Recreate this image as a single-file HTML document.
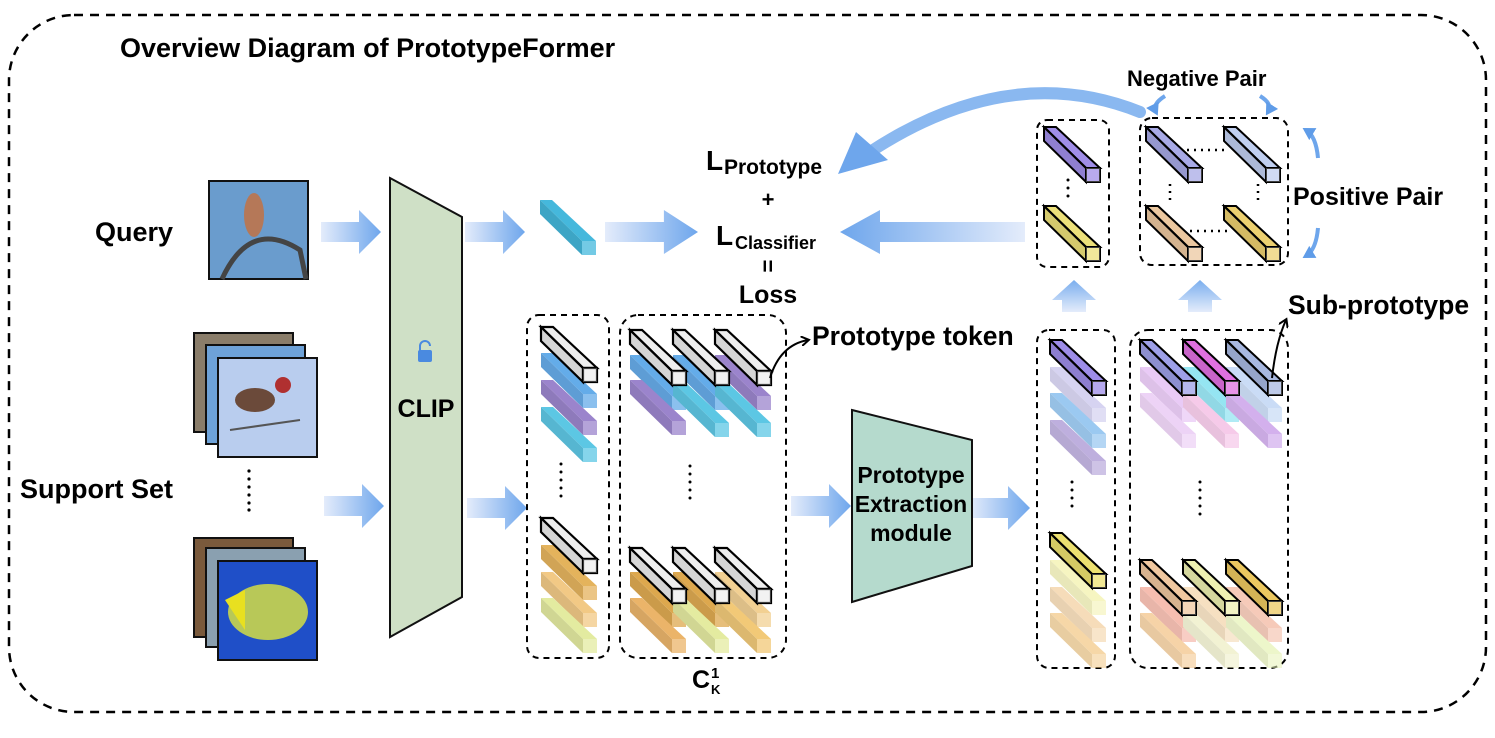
<!DOCTYPE html>
<html><head><meta charset="utf-8"><style>
html,body{margin:0;padding:0;background:#fff;}
svg{display:block;font-family:"Liberation Sans",Arial,sans-serif;font-weight:bold;}
</style></head><body>
<svg width="1495" height="738" viewBox="0 0 1495 738" xmlns="http://www.w3.org/2000/svg">
<defs>
<linearGradient id="ag" x1="0" y1="0" x2="1" y2="0"><stop offset="0" stop-color="#e4ecfb"/><stop offset="1" stop-color="#6ea6ec"/></linearGradient>
<linearGradient id="agl" x1="1" y1="0" x2="0" y2="0"><stop offset="0" stop-color="#e4ecfb"/><stop offset="1" stop-color="#6ea6ec"/></linearGradient>
<linearGradient id="agu" x1="0" y1="1" x2="0" y2="0"><stop offset="0" stop-color="#e4ecfb"/><stop offset="1" stop-color="#7aaeee"/></linearGradient>
<g id="arr"><polygon points="0,-10 38,-10 38,-22 60,0 38,22 38,10 0,10" fill="url(#ag)"/></g>
<g id="b">
<polygon points="0,0 12,0 56,41 42,41"/>
<polygon points="0,0 42,41 42,55 0,14"/>
<polygon points="0,0 42,41 42,55 0,14" fill="#000" fill-opacity=".1" stroke="none"/>
<polygon points="42,41 56,41 56,55 42,55"/>
<polygon points="42,41 56,41 56,55 42,55" fill="#fff" fill-opacity=".25" stroke="none"/>
<line x1="0" y1="0" x2="42" y2="41"/>
</g>
<marker id="mk" markerWidth="10" markerHeight="10" refX="7" refY="5" orient="auto" markerUnits="userSpaceOnUse"><path d="M0,0 L8,5 L0,10" fill="none" stroke="#000" stroke-width="2"/></marker>
<marker id="mb" markerWidth="14" markerHeight="14" refX="8" refY="7" orient="auto" markerUnits="userSpaceOnUse"><path d="M0,0 L12,7 L0,14 Z" fill="#5f9ce8"/></marker>
</defs>

<rect x="9" y="15" width="1477" height="697" rx="65" fill="none" stroke="#000" stroke-width="2.5" stroke-dasharray="9,7"/>
<text x="120" y="57" font-size="27">Overview Diagram of PrototypeFormer</text>
<text x="95" y="241" font-size="27">Query</text>
<text x="20" y="498" font-size="27">Support Set</text>

<!-- images -->
<rect x="209" y="181" width="99" height="98" fill="#6a9ccd" stroke="#111" stroke-width="2"/>
<path d="M222,279 Q250,218 300,250 L306,279" fill="none" stroke="#444" stroke-width="5"/>
<ellipse cx="254" cy="215" rx="10" ry="22" fill="#b57858"/>
<rect x="194" y="333" width="99" height="99" fill="#8a7d6a" stroke="#111" stroke-width="2"/>
<rect x="206" y="345" width="99" height="99" fill="#6ea2d8" stroke="#111" stroke-width="2"/>
<rect x="218" y="358" width="99" height="99" fill="#b9cdee" stroke="#111" stroke-width="2"/>
<ellipse cx="255" cy="400" rx="20" ry="12" fill="#6b4a3a"/>
<circle cx="283" cy="385" r="8" fill="#b03030"/>
<path d="M230,430 L300,420" stroke="#555" stroke-width="2"/>
<g fill="#000"><circle cx="249" cy="471" r="1.6"/><circle cx="249" cy="479" r="1.6"/><circle cx="249" cy="487" r="1.6"/><circle cx="249" cy="495" r="1.6"/><circle cx="249" cy="503" r="1.6"/><circle cx="249" cy="510" r="1.6"/></g>
<rect x="194" y="538" width="99" height="99" fill="#7a5a3c" stroke="#111" stroke-width="2"/>
<rect x="206" y="548" width="99" height="99" fill="#8aa0b0" stroke="#111" stroke-width="2"/>
<rect x="218" y="561" width="99" height="99" fill="#1f4fc8" stroke="#111" stroke-width="2"/>
<ellipse cx="268" cy="612" rx="40" ry="28" fill="#b8c858"/>
<polygon points="225,600 245,590 245,630" fill="#e8e020"/>

<!-- CLIP -->
<polygon points="390,178 462,217 462,597 390,637" fill="#cfe0c6" stroke="#111" stroke-width="2"/>
<rect x="418" y="350" width="14" height="12" rx="2" fill="#4a8ae0"/>
<path d="M420,351 v-5 a5,5 0 0 1 10,0" fill="none" stroke="#4a8ae0" stroke-width="2"/>
<text x="426" y="417" font-size="25" text-anchor="middle">CLIP</text>

<!-- arrows -->
<use href="#arr" x="321" y="232"/>
<use href="#arr" x="324" y="506"/>
<use href="#arr" x="465" y="232"/>
<use href="#arr" x="467" y="508"/>
<g transform="translate(605,232) scale(1.55,1)"><use href="#arr"/></g>
<use href="#arr" x="791" y="506"/>
<use href="#arr" x="970" y="508"/>
<polygon points="1025,222 880,222 880,210 840,232 880,254 880,242 1025,242" fill="url(#agl)"/>
<polygon points="1062,312 1062,300 1052,300 1074,280 1096,300 1086,300 1086,312" fill="url(#agu)"/>
<polygon points="1188,312 1188,300 1178,300 1200,280 1222,300 1212,300 1212,312" fill="url(#agu)"/>
<path d="M1140,112 Q1010,60 870,152" fill="none" stroke="#8ab8f0" stroke-width="12" stroke-linecap="round"/>
<polygon points="838,174 856,132 888,160" fill="#6ea6ec"/>

<!-- query bar -->
<use href="#b" x="540" y="200" fill="#45b8dc" stroke="none"/>

<!-- loss text -->
<text x="706" y="170" font-size="28">L</text><text x="724" y="174" font-size="21">Prototype</text>
<text x="768" y="207" font-size="22" text-anchor="middle">+</text>
<text x="716" y="245" font-size="28">L</text><text x="735" y="249" font-size="18">Classifier</text>
<text x="768" y="274" font-size="22" text-anchor="middle" transform="rotate(90 768 266)">=</text>
<text x="768" y="303" font-size="25" text-anchor="middle">Loss</text>

<!-- boxes -->
<g fill="none" stroke="#000" stroke-width="2" stroke-dasharray="6,5">
<rect x="527" y="315" width="82" height="343" rx="12"/>
<rect x="620" y="315" width="166" height="343" rx="18"/>
<rect x="1037" y="330" width="78" height="338" rx="12"/>
<rect x="1130" y="330" width="158" height="338" rx="18"/>
<rect x="1037" y="120" width="72" height="147" rx="10"/>
<rect x="1140" y="118" width="148" height="147" rx="12"/>
</g>

<!-- box1 -->
<g stroke="none" opacity=".85">
<use href="#b" x="541" y="353" fill="#4a9ee6"/>
<use href="#b" x="541" y="380" fill="#8a6fc4"/>
<use href="#b" x="541" y="407" fill="#40bee0"/>
<use href="#b" x="541" y="545" fill="#e0a640"/>
<use href="#b" x="541" y="572" fill="#f0c070"/>
<use href="#b" x="541" y="598" fill="#dfe890"/>
</g>
<use href="#b" x="541" y="327" fill="#eeeeee" stroke="#000" stroke-width="2.2"/>
<use href="#b" x="541" y="518" fill="#eeeeee" stroke="#000" stroke-width="2.2"/>
<g fill="#000"><circle cx="561" cy="464" r="1.5"/><circle cx="561" cy="472" r="1.5"/><circle cx="561" cy="480" r="1.5"/><circle cx="561" cy="488" r="1.5"/><circle cx="561" cy="496" r="1.5"/></g>

<!-- box2 -->
<g stroke="none" opacity=".85">
<use href="#b" x="630" y="355" fill="#4a9ee6"/>
<use href="#b" x="630" y="380" fill="#8a6fc4"/>
<use href="#b" x="673" y="355" fill="#4a9ee6"/>
<use href="#b" x="673" y="382" fill="#40bee0"/>
<use href="#b" x="715" y="355" fill="#8a6fc4"/>
<use href="#b" x="715" y="382" fill="#40bee0"/>
<use href="#b" x="630" y="572" fill="#d89a30"/>
<use href="#b" x="630" y="598" fill="#e8a850"/>
<use href="#b" x="673" y="572" fill="#d89a30"/>
<use href="#b" x="673" y="598" fill="#e0e890"/>
<use href="#b" x="715" y="572" fill="#f0c880"/>
<use href="#b" x="715" y="598" fill="#f0c060"/>
</g>
<use href="#b" x="630" y="330" fill="#eeeeee" stroke="#000" stroke-width="2.2"/>
<use href="#b" x="673" y="330" fill="#eeeeee" stroke="#000" stroke-width="2.2"/>
<use href="#b" x="715" y="330" fill="#eeeeee" stroke="#000" stroke-width="2.2"/>
<use href="#b" x="630" y="548" fill="#eeeeee" stroke="#000" stroke-width="2.2"/>
<use href="#b" x="673" y="548" fill="#eeeeee" stroke="#000" stroke-width="2.2"/>
<use href="#b" x="715" y="548" fill="#eeeeee" stroke="#000" stroke-width="2.2"/>
<g fill="#000"><circle cx="690" cy="466" r="1.5"/><circle cx="690" cy="474" r="1.5"/><circle cx="690" cy="482" r="1.5"/><circle cx="690" cy="490" r="1.5"/><circle cx="690" cy="498" r="1.5"/></g>
<text x="692" y="688" font-size="25">C</text>
<text x="711" y="694" font-size="13">K</text><text x="711" y="678" font-size="15">1</text>

<path d="M770,378 Q780,345 808,340" fill="none" stroke="#000" stroke-width="2" marker-end="url(#mk)"/>
<text x="812" y="345" font-size="26.5">Prototype token</text>

<!-- PEM -->
<polygon points="852,410 972,440 972,566 852,602" fill="#b5dacd" stroke="#111" stroke-width="2"/>
<text x="911" y="483" font-size="23" text-anchor="middle">Prototype</text>
<text x="911" y="512" font-size="23" text-anchor="middle">Extraction</text>
<text x="911" y="541" font-size="23" text-anchor="middle">module</text>

<!-- box3 -->
<g stroke="none" opacity=".55">
<use href="#b" x="1050" y="367" fill="#b6b0e6"/>
<use href="#b" x="1050" y="393" fill="#4a9ee6"/>
<use href="#b" x="1050" y="420" fill="#8a6fc4"/>
<use href="#b" x="1050" y="560" fill="#f0ee90"/>
<use href="#b" x="1050" y="587" fill="#f0c080"/>
<use href="#b" x="1050" y="613" fill="#f0b860"/>
</g>
<use href="#b" x="1050" y="340" fill="#9e8de8" stroke="#000" stroke-width="2"/>
<use href="#b" x="1050" y="533" fill="#ece070" stroke="#000" stroke-width="2"/>
<g fill="#000"><circle cx="1072" cy="482" r="1.5"/><circle cx="1072" cy="490" r="1.5"/><circle cx="1072" cy="498" r="1.5"/><circle cx="1072" cy="506" r="1.5"/></g>

<!-- box4 -->
<g stroke="none" opacity=".55">
<use href="#b" x="1140" y="367" fill="#d8a0f0"/>
<use href="#b" x="1140" y="393" fill="#e0b0f0"/>
<use href="#b" x="1183" y="367" fill="#40d0e8"/>
<use href="#b" x="1183" y="393" fill="#f0a0d8"/>
<use href="#b" x="1226" y="367" fill="#a0c0f0"/>
<use href="#b" x="1226" y="393" fill="#b070e0"/>
<use href="#b" x="1140" y="587" fill="#f08870"/>
<use href="#b" x="1140" y="613" fill="#f0b060"/>
<use href="#b" x="1183" y="587" fill="#f0c890"/>
<use href="#b" x="1183" y="613" fill="#e8e8b0"/>
<use href="#b" x="1226" y="587" fill="#f0a080"/>
<use href="#b" x="1226" y="613" fill="#e0f0a0"/>
</g>
<use href="#b" x="1140" y="340" fill="#9ea0e8" stroke="#000" stroke-width="2"/>
<use href="#b" x="1183" y="340" fill="#e070e0" stroke="#000" stroke-width="2"/>
<use href="#b" x="1226" y="340" fill="#a8b8e0" stroke="#000" stroke-width="2"/>
<use href="#b" x="1140" y="560" fill="#f0c8a0" stroke="#000" stroke-width="2"/>
<use href="#b" x="1183" y="560" fill="#eef0b0" stroke="#000" stroke-width="2"/>
<use href="#b" x="1226" y="560" fill="#ecc860" stroke="#000" stroke-width="2"/>
<g fill="#000"><circle cx="1200" cy="482" r="1.5"/><circle cx="1200" cy="490" r="1.5"/><circle cx="1200" cy="498" r="1.5"/><circle cx="1200" cy="506" r="1.5"/><circle cx="1200" cy="514" r="1.5"/></g>
<path d="M1272,378 Q1276,342 1286,320" fill="none" stroke="#000" stroke-width="2" marker-end="url(#mk)"/>
<text x="1288" y="314" font-size="26.5">Sub-prototype</text>

<!-- top boxes -->
<use href="#b" x="1044" y="127" fill="#a08ee8" stroke="#000" stroke-width="2"/>
<use href="#b" x="1044" y="206" fill="#ece07a" stroke="#000" stroke-width="2"/>
<g fill="#000"><circle cx="1068" cy="180" r="1.5"/><circle cx="1068" cy="188" r="1.5"/><circle cx="1068" cy="196" r="1.5"/></g>
<use href="#b" x="1146" y="127" fill="#a8aae6" stroke="#000" stroke-width="2"/>
<use href="#b" x="1224" y="127" fill="#c0cff0" stroke="#000" stroke-width="2"/>
<use href="#b" x="1146" y="206" fill="#ecc8a0" stroke="#000" stroke-width="2"/>
<use href="#b" x="1224" y="206" fill="#ecd070" stroke="#000" stroke-width="2"/>
<g stroke="#000" stroke-width="2.5" stroke-dasharray="2,5" fill="none">
<line x1="1187" y1="150" x2="1228" y2="150"/>
<line x1="1190" y1="231" x2="1228" y2="231"/>
<line x1="1170" y1="184" x2="1170" y2="200"/>
<line x1="1258" y1="184" x2="1258" y2="200"/>
</g>
<text x="1127" y="86" font-size="22">Negative Pair</text>
<text x="1293" y="205" font-size="25">Positive Pair</text>
<path d="M1165,96 Q1152,104 1156,112" fill="none" stroke="#6ea6ec" stroke-width="4" marker-end="url(#mb)"/>
<path d="M1260,96 Q1273,104 1268,112" fill="none" stroke="#6ea6ec" stroke-width="4" marker-end="url(#mb)"/>
<path d="M1318,158 Q1316,136 1306,130" fill="none" stroke="#6ea6ec" stroke-width="4" marker-end="url(#mb)"/>
<path d="M1318,228 Q1316,250 1306,256" fill="none" stroke="#6ea6ec" stroke-width="4" marker-end="url(#mb)"/>
</svg>
</body></html>
